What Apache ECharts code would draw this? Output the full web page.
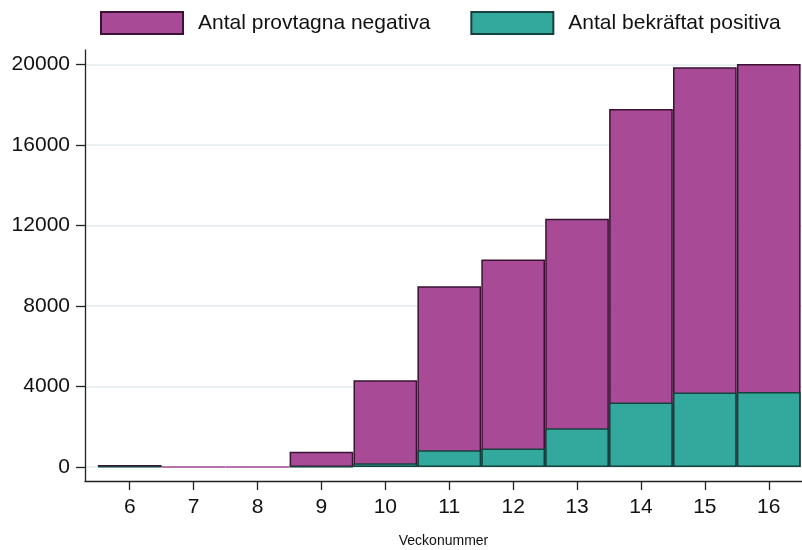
<!DOCTYPE html>
<html><head><meta charset="utf-8">
<script src="https://cdn.jsdelivr.net/npm/echarts@6/dist/echarts.min.js"></script>
<style>html,body{margin:0;padding:0;background:#fff}#c{width:802px;height:550px}</style>
</head><body><div id="c"></div>
<script>
const weeks = [6, 7, 8, 9, 10, 11, 12, 13, 14, 15, 16];
const negativa = [90, 0, 0, 730, 4120, 8140, 9390, 10400, 14575, 16150, 16300];
const positiva = [10, 0, 0, 20, 180, 830, 910, 1925, 3200, 3700, 3715];
const yTicks = [0, 4000, 8000, 12000, 16000, 20000];
const seriesNames = ['Antal provtagna negativa', 'Antal bekräftat positiva'];

const MAG = '#a94a97', MAG_B = '#3a1234';
const TEAL = '#33a99e', TEAL_B = '#17413c';
const FONT = '"Liberation Sans", Arial, sans-serif';

// Bars are drawn overlapping: the negative bar sits on top of the positive one.
const totals = weeks.map((w, i) => negativa[i] + positiva[i]);

const chart = echarts.init(document.getElementById('c'));
chart.setOption({
  animation: false,
  textStyle: {fontFamily: FONT},
  legend: {
    left: 95, top: 6, itemWidth: 82, itemHeight: 22, itemGap: 40, icon: 'rect',
    textStyle: {fontSize: 21, color: '#111', fontFamily: FONT, padding: [0, 0, 0, 10]},
    data: [seriesNames[0], seriesNames[1]]
  },
  grid: {left: 85, right: 0, top: 50, bottom: 69, outerBoundsMode: 'none', containLabel: false},
  xAxis: {
    type: 'value', min: 5.3, max: 16.52,
    name: 'Veckonummer', nameLocation: 'middle', nameGap: 53,
    nameTextStyle: {fontSize: 14, color: '#111', fontFamily: FONT},
    axisLine: {show: true, onZero: false, lineStyle: {color: '#222', width: 1.3}},
    axisTick: {show: true, customValues: weeks, length: 9, lineStyle: {color: '#222', width: 1.3}},
    axisLabel: {customValues: weeks, fontSize: 21, color: '#111', margin: 16, fontFamily: FONT},
    splitLine: {show: false}
  },
  yAxis: {
    type: 'value', min: -700, max: 20710,
    axisLine: {show: true, onZero: false, lineStyle: {color: '#222', width: 1.3}},
    axisTick: {show: true, customValues: yTicks, length: 9, lineStyle: {color: '#222', width: 1.3}},
    axisLabel: {customValues: yTicks, fontSize: 21, color: '#111', margin: 15, fontFamily: FONT,
      formatter: v => String(v)},
    splitLine: {show: true, customValues: yTicks, lineStyle: {color: '#e8f0f2', width: 2}}
  },
  series: [
    {
      name: seriesNames[0], type: 'bar', barWidth: 63.7, barGap: '-100%',
      itemStyle: {color: MAG, borderColor: MAG_B, borderWidth: 1.5},
      data: weeks.map((w, i) => totals[i] === 0
        ? {value: [w, 0], itemStyle: {borderColor: MAG, borderWidth: 1.5}}
        : [w, totals[i]])
    },
    {
      name: seriesNames[1], type: 'bar', barWidth: 63.7, barGap: '-100%',
      itemStyle: {color: TEAL, borderColor: TEAL_B, borderWidth: 1.5},
      data: weeks.map((w, i) => positiva[i] === 0
        ? {value: [w, 0], itemStyle: {borderWidth: 0, opacity: 0}}
        : [w, positiva[i]])
    }
  ]
});
</script></body></html>
